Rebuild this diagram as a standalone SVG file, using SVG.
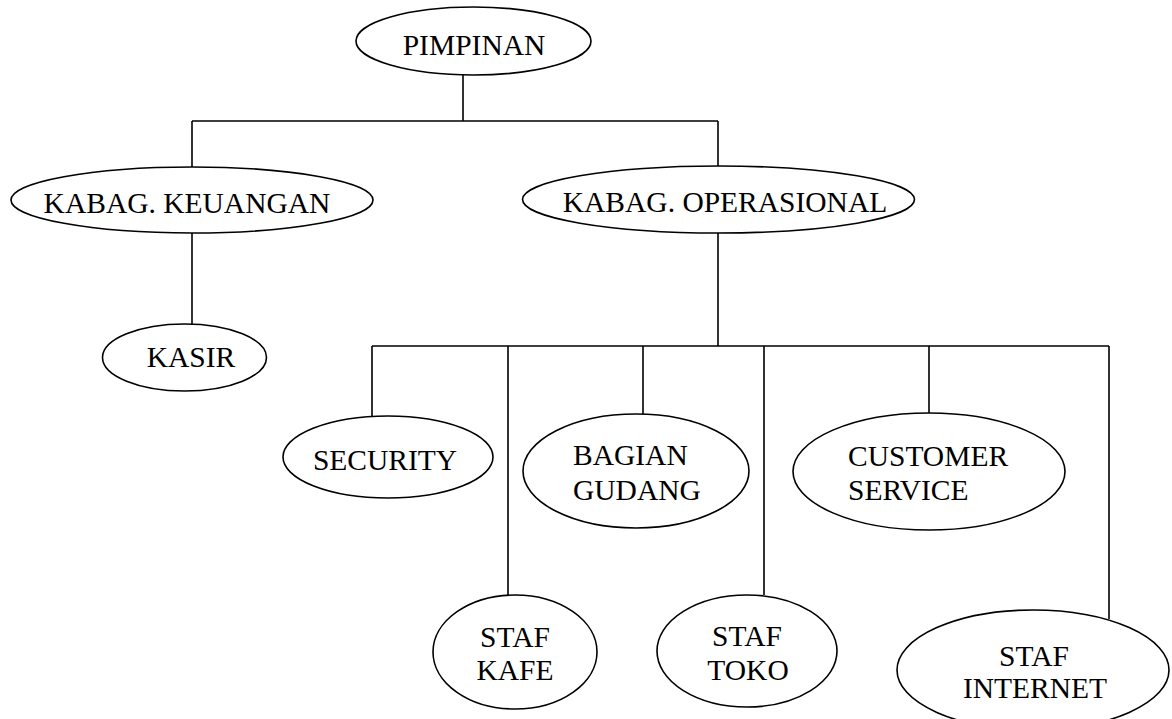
<svg xmlns="http://www.w3.org/2000/svg" width="1172" height="719" viewBox="0 0 1172 719">
<style>
.n{fill:#fff;stroke:#000;stroke-width:1.6}
.c{stroke:#000;stroke-width:1.6;fill:none}
text{font-family:"Liberation Serif","Times New Roman",serif;font-size:29.5px;fill:#000}
.m{text-anchor:middle}
</style>
<rect width="1172" height="719" fill="#fff"/>
<g id="connectors">
<path class="c" d="M463 75V121M192 121H718M192 121V167M718 121V166"/>
<path class="c" d="M192 233V324"/>
<path class="c" d="M718 233V346M372 346H1109M372 346V416M508 346V595M643 346V414M764 346V595M929 346V413M1109 346V619"/>
</g>
<g id="pimpinan"><ellipse class="n" cx="473.5" cy="41" rx="117.5" ry="34"/><text class="m" x="474" y="55">PIMPINAN</text></g>
<g id="kabag-keuangan"><ellipse class="n" cx="192" cy="200" rx="181" ry="33"/><text class="m" x="187" y="213">KABAG. KEUANGAN</text></g>
<g id="kabag-operasional"><ellipse class="n" cx="718.5" cy="199.5" rx="196" ry="33.5"/><text class="m" x="725" y="212">KABAG. OPERASIONAL</text></g>
<g id="kasir"><ellipse class="n" cx="184.5" cy="357.5" rx="82" ry="33.5"/><text class="m" x="191" y="367">KASIR</text></g>
<g id="security"><ellipse class="n" cx="388" cy="457" rx="105" ry="41"/><text class="m" x="385" y="470">SECURITY</text></g>
<g id="bagian-gudang"><ellipse class="n" cx="636" cy="471" rx="113" ry="57"/><text x="573" y="465">BAGIAN</text><text x="573" y="500">GUDANG</text></g>
<g id="customer-service"><ellipse class="n" cx="929" cy="471.5" rx="136" ry="58.5"/><text x="848" y="466">CUSTOMER</text><text x="848" y="500">SERVICE</text></g>
<g id="staf-kafe"><ellipse class="n" cx="515" cy="652" rx="82" ry="57"/><text class="m" x="515" y="647">STAF</text><text class="m" x="515" y="680">KAFE</text></g>
<g id="staf-toko"><ellipse class="n" cx="747" cy="651" rx="90" ry="56"/><text class="m" x="747" y="646">STAF</text><text class="m" x="748" y="680">TOKO</text></g>
<g id="staf-internet"><ellipse class="n" cx="1033" cy="670" rx="136" ry="60"/><text class="m" x="1034" y="666">STAF</text><text class="m" x="1035" y="698">INTERNET</text></g>
</svg>
